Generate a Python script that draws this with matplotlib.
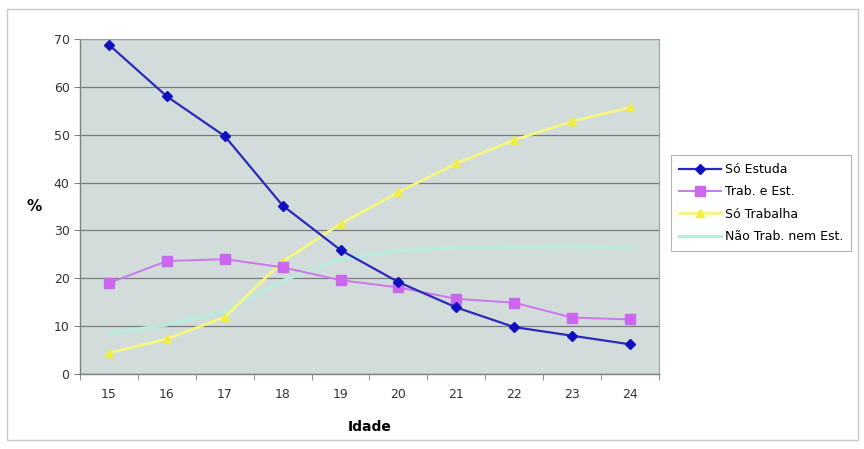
import matplotlib
matplotlib.use("Agg")
import matplotlib.pyplot as plt
from matplotlib.patches import Rectangle

idade = [15, 16, 17, 18, 19, 20, 21, 22, 23, 24]
so_estuda = [68.8, 58.0, 49.7, 35.2, 25.9, 19.2, 13.9, 9.8, 8.0, 6.2]
trab_est = [19.0, 23.6, 24.0, 22.3, 19.6, 18.1, 15.7, 14.9, 11.8, 11.4]
so_trabalha = [4.4, 7.3, 11.9, 23.5, 31.4, 38.0, 44.0, 48.9, 52.8, 55.7]
nao_trab = [8.5, 10.3, 13.0, 19.5, 24.0, 25.8, 26.4, 26.5, 26.6, 26.4]

labels = ["Só Estuda", "Trab. e Est.", "Só Trabalha", "Não Trab. nem Est."]
y_ticks = [0, 10, 20, 30, 40, 50, 60, 70]

fig = plt.figure(figsize=(8.64, 4.49), dpi=100)
fig.patches.append(Rectangle((7 / 864, 9 / 449), 851 / 864, 431 / 449,
                             transform=fig.transFigure, fill=False,
                             edgecolor="#c8c8c8", lw=1.0))
ax = fig.add_axes([80 / 864, 1 - 374 / 449, 579 / 864, 335 / 449])
ax.set_facecolor("#d2dddb")

x = list(range(len(idade)))
ax.plot(x, so_estuda, color="#2a2ab8", lw=1.6, marker="D", ms=5,
        mfc="#1010c0", mec="#1010c0", label=labels[0], zorder=5)
ax.plot(x, trab_est, color="#cc77ee", lw=1.4, marker="s", ms=7,
        mfc="#cc66ee", mec="#cc66ee", label=labels[1], zorder=4)
ax.plot(x, so_trabalha, color="#f6f680", lw=2.0, marker="^", ms=6,
        mfc="#eeee44", mec="#eeee44", label=labels[2], zorder=3)
ax.plot(x, nao_trab, color="#b9ecdc", lw=2.4,
        label=labels[3], zorder=2)

ax.set_xlim(-0.5, len(idade) - 0.5)
ax.set_ylim(0, 70)
ax.set_yticks(y_ticks)
ax.set_xticks(x)
ax.set_xticklabels([str(a) for a in idade])
ax.set_xticks([i - 0.5 for i in range(len(idade) + 1)], minor=True)
ax.tick_params(axis="x", which="major", length=0, labelsize=9, pad=10,
               colors="#333333")
ax.tick_params(axis="x", which="minor", length=4, color="#808080")
ax.tick_params(axis="y", length=4, labelsize=9, color="#808080",
               colors="#333333")
ax.tick_params(axis="y", color="#808080")
ax.grid(axis="y", color="#7a7a7a", lw=0.9)
ax.set_axisbelow(True)
for side in ["top", "right"]:
    ax.spines[side].set_color("#a0a0a0")
    ax.spines[side].set_linewidth(0.8)
for side in ["left", "bottom"]:
    ax.spines[side].set_color("#808080")
    ax.spines[side].set_linewidth(1.0)

ax.set_xlabel("Idade", fontsize=10, fontweight="bold", labelpad=14)
ax.set_ylabel("%", fontsize=11, fontweight="bold", rotation=0, labelpad=14,
              va="center")

leg = fig.legend(loc="center left", bbox_to_anchor=(671 / 864, 1 - 203 / 449),
                 fontsize=9, frameon=True, fancybox=False,
                 handlelength=3.4, borderpad=0.6, labelspacing=0.75,
                 handletextpad=0.3, borderaxespad=0)
leg.get_frame().set_edgecolor("#a0a0a0")
leg.get_frame().set_linewidth(0.8)

fig.savefig("out.png", dpi=100)
